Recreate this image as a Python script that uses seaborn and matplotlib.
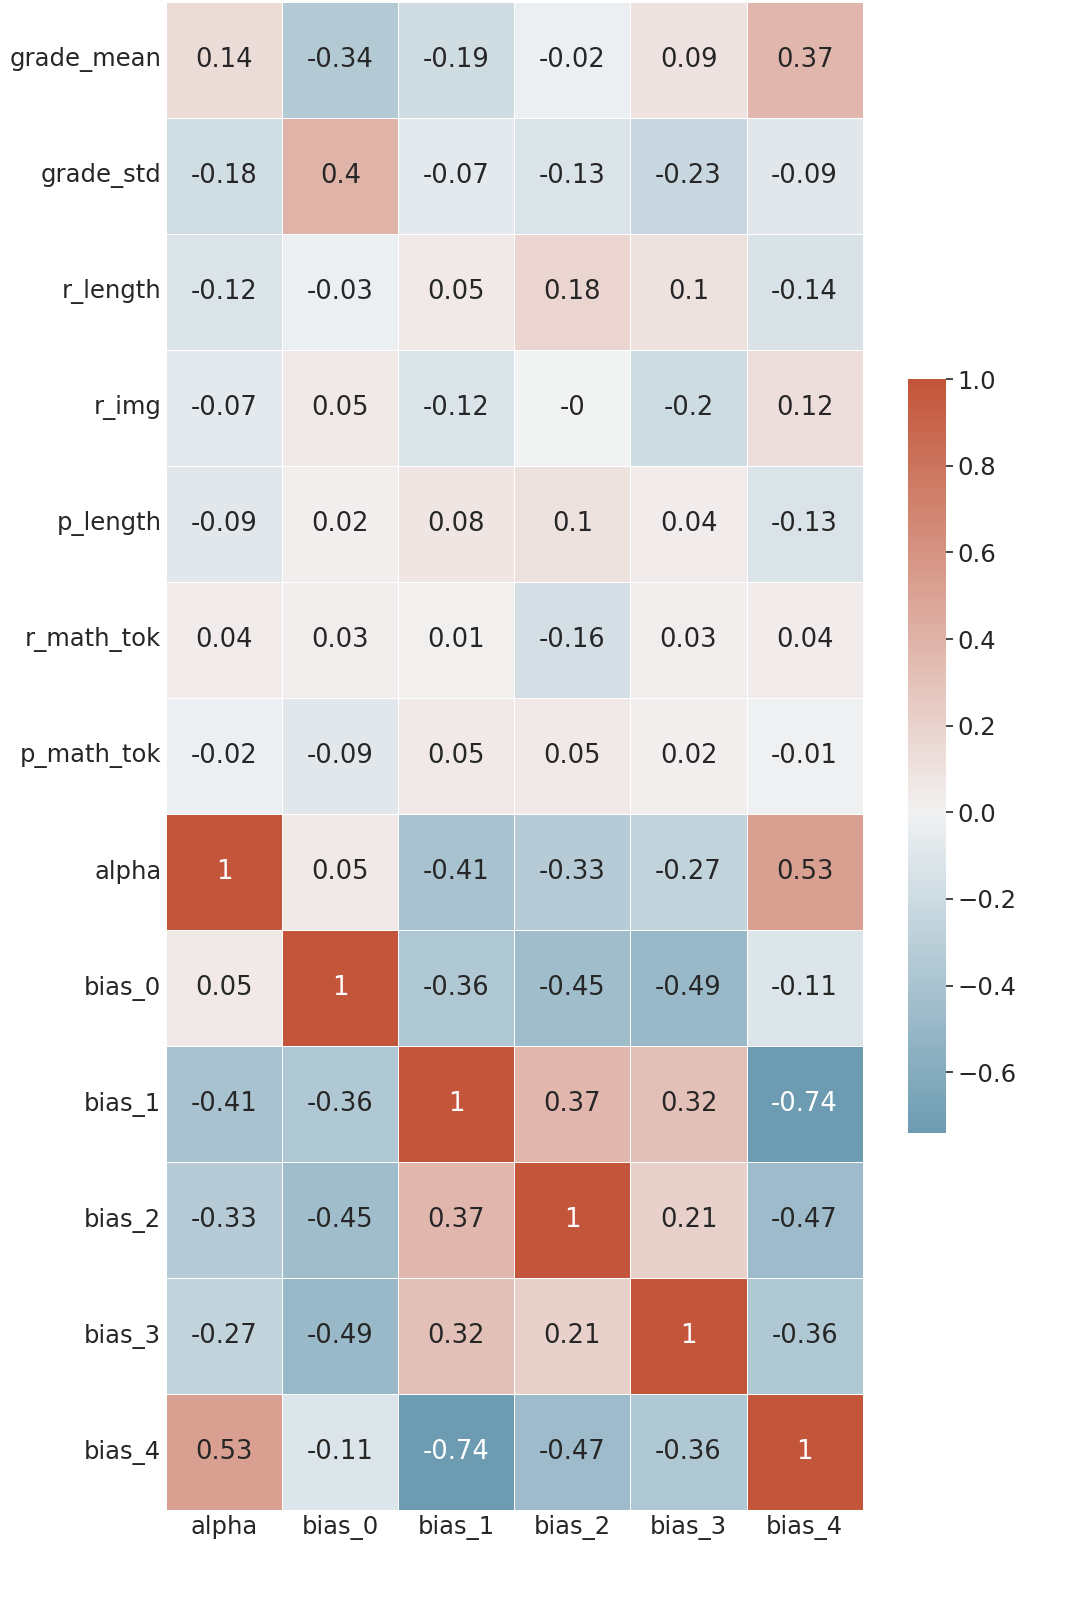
import numpy as np
import pandas as pd
import seaborn as sns
import matplotlib
matplotlib.use('Agg')
import matplotlib.pyplot as plt

sns.set_theme(style='white', font_scale=1.5)

# row / column names of the correlation table
row_names = ['grade_mean', 'grade_std', 'r_length', 'r_img', 'p_length',
             'r_math_tok', 'p_math_tok', 'alpha', 'bias_0', 'bias_1',
             'bias_2', 'bias_3', 'bias_4']
col_names = ['alpha', 'bias_0', 'bias_1', 'bias_2', 'bias_3', 'bias_4']

# correlations (rounded to 2 decimals)
grade_mean = [0.14, -0.34, -0.19, -0.02, 0.09, 0.37]
grade_std = [-0.18, 0.4, -0.07, -0.13, -0.23, -0.09]
r_length = [-0.12, -0.03, 0.05, 0.18, 0.1, -0.14]
r_img = [-0.07, 0.05, -0.12, -0.0, -0.2, 0.12]
p_length = [-0.09, 0.02, 0.08, 0.1, 0.04, -0.13]
r_math_tok = [0.04, 0.03, 0.01, -0.16, 0.03, 0.04]
p_math_tok = [-0.02, -0.09, 0.05, 0.05, 0.02, -0.01]
alpha = [1, 0.05, -0.41, -0.33, -0.27, 0.53]
bias_0 = [0.05, 1, -0.36, -0.45, -0.49, -0.11]
bias_1 = [-0.41, -0.36, 1, 0.37, 0.32, -0.74]
bias_2 = [-0.33, -0.45, 0.37, 1, 0.21, -0.47]
bias_3 = [-0.27, -0.49, 0.32, 0.21, 1, -0.36]
bias_4 = [0.53, -0.11, -0.74, -0.47, -0.36, 1]

corr = pd.DataFrame([grade_mean, grade_std, r_length, r_img, p_length,
                     r_math_tok, p_math_tok, alpha, bias_0, bias_1,
                     bias_2, bias_3, bias_4],
                    index=row_names, columns=col_names)

fig = plt.figure(figsize=(10.65, 16), dpi=100)
ax = fig.add_axes([0.156, 0.056, 0.654, 0.943])
cax = fig.add_axes([0.853, 0.292, 0.035, 0.471])

cmap = sns.diverging_palette(230, 20, as_cmap=True)
sns.heatmap(corr, cmap=cmap, center=0, vmax=1, annot=True, fmt='g',
            linewidths=0.5, linecolor='white', ax=ax, cbar_ax=cax,
            annot_kws={'size': 18.5})
ax.tick_params(axis='both', length=0, labelsize=17.5)
plt.setp(ax.get_yticklabels(), rotation=0)
plt.setp(ax.get_xticklabels(), rotation=0)
cax.tick_params(length=5, width=1.2, labelsize=17.5)

fig.savefig('out.png', dpi=100)
